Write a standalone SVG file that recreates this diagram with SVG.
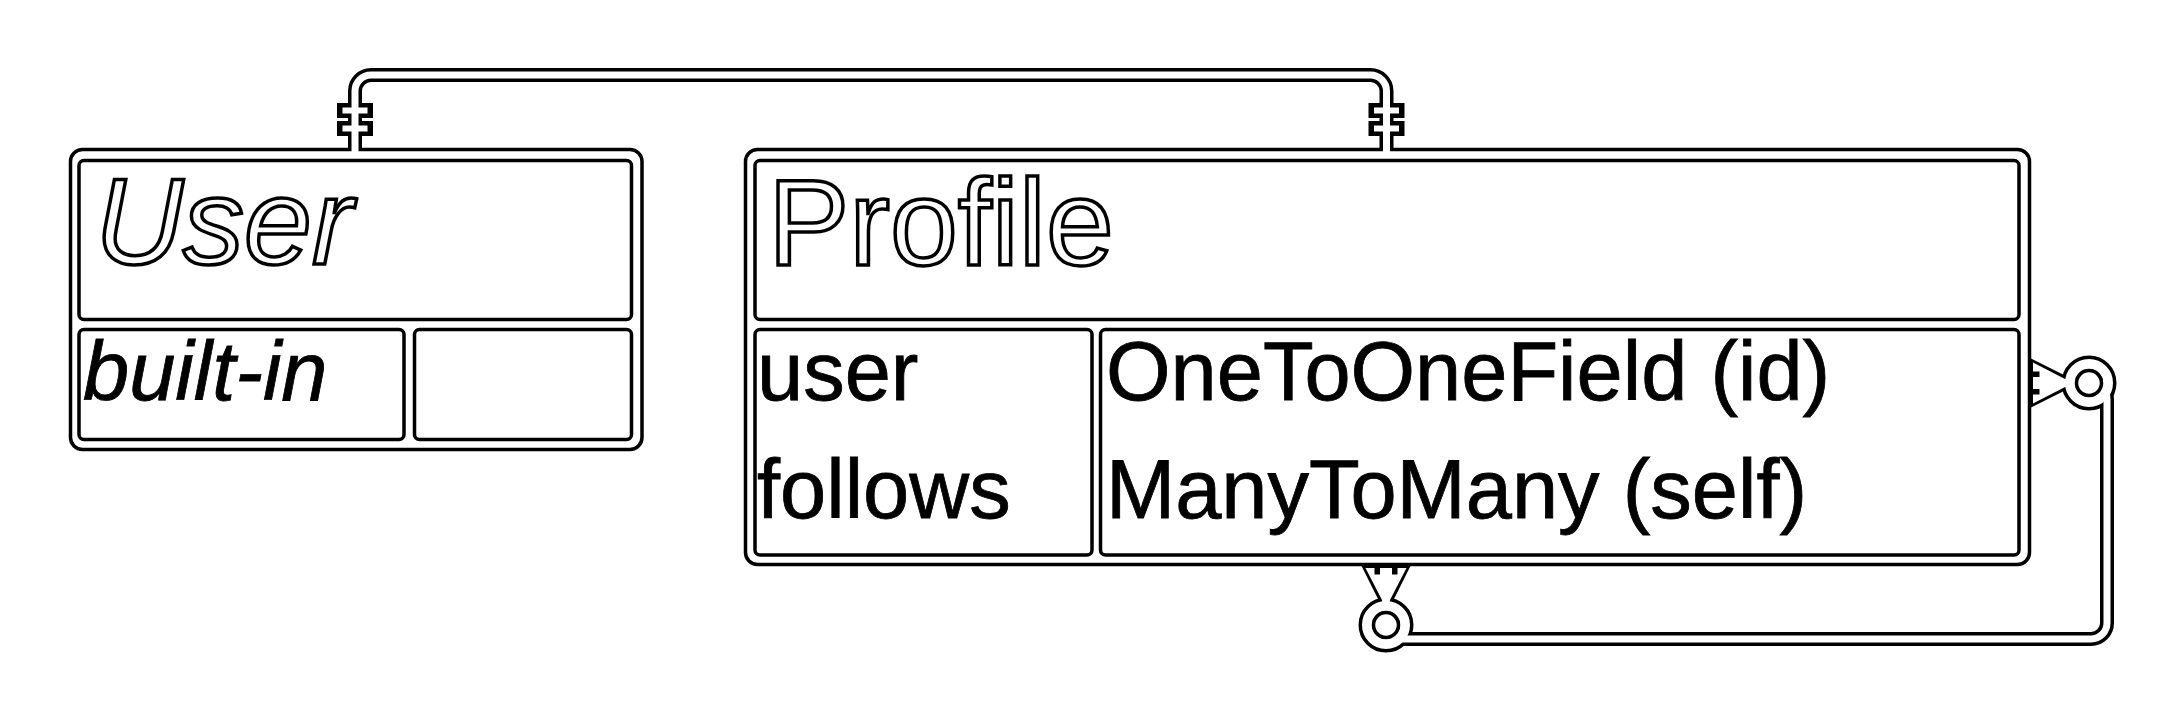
<svg xmlns="http://www.w3.org/2000/svg" width="2184" height="722" viewBox="0 0 2184 722">
<defs>
<style>
.box{fill:#fff;stroke:#000;stroke-width:3.5}
.cell{fill:#fff;stroke:#000;stroke-width:3.5}
.title{font-family:"Liberation Sans",Arial,sans-serif;font-size:122px;fill:#fff;stroke:#000;stroke-width:3.5}
.field{font-family:"Liberation Sans",Arial,sans-serif;font-size:83px;fill:#000;stroke:#000;stroke-width:0.8}
.k{fill:none;stroke:#000;stroke-width:14}
.w{fill:none;stroke:#fff;stroke-width:7}
.kb{fill:none;stroke:#000;stroke-width:15}
.wb{fill:none;stroke:#fff;stroke-width:6}
.kc{fill:none;stroke:#000;stroke-width:17}
.wc{fill:none;stroke:#fff;stroke-width:10}
.hole{fill:#fff;stroke:#000;stroke-width:3.5}
.kf{fill:#000}
.wf{fill:#fff}
.notch{fill:#fff;stroke:#000;stroke-width:3}
</style>
</defs>
<rect width="2184" height="722" fill="#fff"/>

<g id="user">
<rect class="box" x="70.5" y="149.5" width="571.5" height="300" rx="12"/>
<rect class="cell" x="79" y="160.5" width="552.5" height="159" rx="5"/>
<rect class="cell" x="79" y="329.5" width="325" height="110" rx="5"/>
<rect class="cell" x="414.5" y="329.5" width="217" height="110" rx="5"/>
<text class="title" x="95" y="264" font-style="italic">User</text>
<text class="field" x="83" y="400" font-style="italic">built-in</text>
</g>

<g id="profile">
<rect class="box" x="745.5" y="149.5" width="1284" height="415" rx="12"/>
<rect class="cell" x="755" y="160.5" width="1264" height="159" rx="5"/>
<rect class="cell" x="755" y="329.5" width="337" height="225.5" rx="5"/>
<rect class="cell" x="1100.5" y="329.5" width="918.5" height="225.5" rx="5"/>
<text class="title" x="768" y="265">Profile</text>
<text class="field" x="757" y="400">user</text>
<text class="field" x="757" y="518">follows</text>
<text class="field" x="1106" y="400">OneToOneField (id)</text>
<text class="field" x="1106" y="518">ManyToMany (self)</text>
</g>

<g id="connectors">
<g id="user-profile">
<path class="k" d="M355,150 V91 A16,16 0 0 1 371,75 H1370.5 A16,16 0 0 1 1386.5,91 V150"/>
<path class="kb" d="M337,110.5 H373 M337,128.5 H373 M1368.5,110.5 H1404.5 M1368.5,128.5 H1404.5"/>
<path class="w" d="M355,153 V91 A16,16 0 0 1 371,75 H1370.5 A16,16 0 0 1 1386.5,91 V153"/>
<path class="wb" d="M342.5,110.5 H367.5 M342.5,128.5 H367.5 M1374,110.5 H1399 M1374,128.5 H1399"/>
</g>
<g id="profile-self">
<path class="k" d="M2030,383 H2091 A16,16 0 0 1 2107,399 V623 A16,16 0 0 1 2091,639 H1402 A16,16 0 0 1 1386,623 V565"/>
<polygon class="kf" points="2030,358 2066,376 2074,376 2074,390 2066,390 2030,408"/>
<polygon class="kf" points="1361,565 1379,601 1379,607 1393,607 1393,601 1411,565"/>
<circle class="kc" cx="2089" cy="383" r="19"/>
<circle class="kc" cx="1386" cy="625" r="19"/>
<path class="w" d="M2033,383 H2091 A16,16 0 0 1 2107,399 V623 A16,16 0 0 1 2091,639 H1402 A16,16 0 0 1 1386,623 V568"/>
<polygon class="wf" points="2033,362.5 2066,379.5 2076,379.5 2076,386.5 2066,386.5 2033,403.5"/>
<polygon class="wf" points="1365.5,568 1382.5,601 1382.5,609 1389.5,609 1389.5,601 1406.5,568"/>
<rect class="notch" x="2030" y="373" width="8" height="2.5"/>
<rect class="notch" x="2030" y="390.5" width="8" height="2.5"/>
<rect class="notch" x="1376" y="565" width="2.5" height="8"/>
<rect class="notch" x="1393.5" y="565" width="2.5" height="8"/>
<circle class="wc" cx="2089" cy="383" r="19"/>
<circle class="wc" cx="1386" cy="625" r="19"/>
<circle class="hole" cx="2089" cy="383" r="12.5"/>
<circle class="hole" cx="1386" cy="625" r="12.5"/>
</g>
</g>
</svg>
